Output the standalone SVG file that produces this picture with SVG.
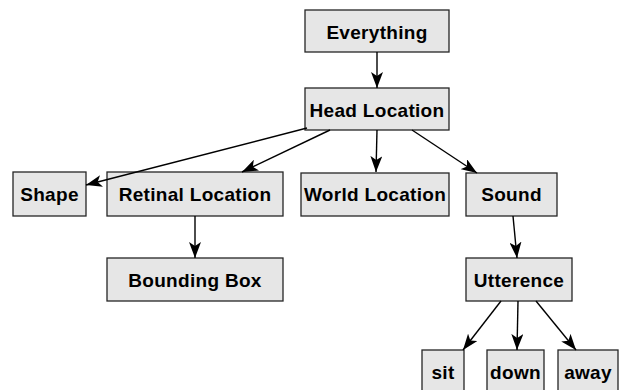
<svg xmlns="http://www.w3.org/2000/svg" width="621" height="390" viewBox="0 0 621 390">
<defs>
<style>
.n rect{fill:#e6e6e6;stroke:#262626;stroke-width:1.3}
.n text{font-family:"Liberation Sans",Arial,sans-serif;font-weight:bold;font-size:19px;letter-spacing:0.3px;fill:#000;text-anchor:middle}
.e line{stroke:#000;stroke-width:1.4;marker-end:url(#a)}
</style>
<marker id="a" viewBox="0 0 16 12" refX="16" refY="6" markerWidth="16" markerHeight="12" markerUnits="userSpaceOnUse" orient="auto">
<path d="M0,0 L16,6 L0,12 L4,6 Z" fill="#000"/>
</marker>
</defs>
<rect width="621" height="390" fill="#fff"/>
<g id="everything" class="n"><rect x="305" y="10" width="144" height="42"/><text x="377" y="38.5">Everything</text></g>
<g id="head" class="n"><rect x="305" y="88" width="144" height="42"/><text x="377" y="116.5">Head Location</text></g>
<g id="shape" class="n"><rect x="13" y="172" width="73" height="44"/><text x="49.5" y="201">Shape</text></g>
<g id="retinal" class="n"><rect x="107" y="172" width="176" height="44"/><text x="195" y="201">Retinal Location</text></g>
<g id="world" class="n"><rect x="301" y="173" width="148" height="43"/><text x="375" y="201">World Location</text></g>
<g id="sound" class="n"><rect x="466" y="173" width="91" height="43"/><text x="511.5" y="201">Sound</text></g>
<g id="bounding" class="n"><rect x="107" y="258" width="176" height="43"/><text x="195" y="286.5">Bounding Box</text></g>
<g id="utterence" class="n"><rect x="466" y="258" width="106" height="43"/><text x="519" y="286.5">Utterence</text></g>
<g id="sit" class="n"><rect x="422" y="350" width="42" height="43"/><text x="443" y="378.5">sit</text></g>
<g id="down" class="n"><rect x="487" y="350" width="57" height="43"/><text x="515.5" y="378.5">down</text></g>
<g id="away" class="n"><rect x="558" y="350" width="60" height="43"/><text x="588" y="378.5">away</text></g>
<g class="e">
<line x1="377" y1="52" x2="377" y2="88"/>
<line x1="307" y1="128" x2="86" y2="185"/>
<line x1="330" y1="130" x2="242" y2="172"/>
<line x1="377" y1="130" x2="376" y2="172"/>
<line x1="412" y1="130" x2="477" y2="173"/>
<line x1="195" y1="216" x2="195" y2="258"/>
<line x1="513" y1="216" x2="517" y2="258"/>
<line x1="501" y1="301" x2="463" y2="350"/>
<line x1="518" y1="301" x2="517" y2="350"/>
<line x1="536" y1="301" x2="576" y2="350"/>
</g>
</svg>
